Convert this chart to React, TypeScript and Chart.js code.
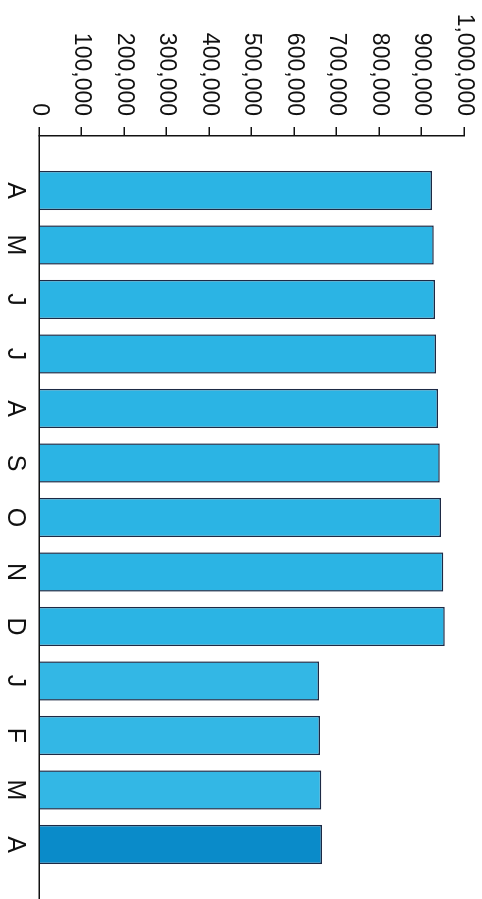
import React, { useEffect, useRef } from "react";
import { Chart, registerables } from "chart.js";

Chart.register(...registerables);

const months = ["A", "M", "J", "J", "A", "S", "O", "N", "D", "J", "F", "M", "A"];
const values = [925000, 929000, 932000, 934000, 939000, 943000, 946000, 951000, 955000, 659000, 661000, 664000, 666000];
const barColors = [
  "#2bb4e4", "#2bb4e4", "#2bb4e4", "#2bb4e4", "#2bb4e4", "#2bb4e4", "#2bb4e4",
  "#2bb4e4", "#2bb4e4", "#33b7e5", "#33b7e5", "#33b7e5", "#0a8bc9",
];
const valueTicks = [0, 100000, 200000, 300000, 400000, 500000, 600000, 700000, 800000, 900000, 1000000];

const FONT = "'Liberation Sans', Arial, Helvetica, sans-serif";

export default function App() {
  const ref = useRef<HTMLCanvasElement | null>(null);

  useEffect(() => {
    if (!ref.current) return;
    const chart = new Chart(ref.current, {
      type: "bar",
      data: {
        datasets: [
          {
            data: values.map((v, i) => ({ x: i, y: v })),
            backgroundColor: barColors,
            borderColor: "#1d2a45",
            borderWidth: 1.5,
            barPercentage: 0.72,
            categoryPercentage: 1,
          },
        ],
      },
      options: {
        responsive: false,
        animation: false,
        events: [],
        layout: { padding: { top: 18, right: 0, left: 0, bottom: 0 } },
        plugins: { legend: { display: false }, tooltip: { enabled: false } },
        scales: {
          x: {
            type: "linear",
            min: -1,
            max: 13,
            offset: false,
            afterBuildTicks: (axis: any) => {
              axis.ticks = months.map((_, i) => ({ value: i }));
            },
            afterFit: (axis: any) => {
              axis.height = 39;
              axis.paddingLeft = 0;
              axis.paddingRight = 0;
            },
            grid: { display: false, drawTicks: false },
            border: { display: true, color: "#111", width: 1.5 },
            ticks: {
              autoSkip: false,
              maxRotation: 0,
              minRotation: 0,
              padding: 9,
              color: "#111",
              font: { family: FONT, size: 25 },
              callback: (v: any) => months[v] ?? "",
            },
          },
          y: {
            min: 0,
            max: 1000000,
            afterBuildTicks: (axis: any) => {
              axis.ticks = valueTicks.map((v) => ({ value: v }));
            },
            afterFit: (axis: any) => {
              axis.width = 136;
              axis.paddingTop = 0;
              axis.paddingBottom = 0;
            },
            grid: {
              display: true,
              drawOnChartArea: false,
              drawTicks: true,
              tickLength: 9,
              color: "#111",
              lineWidth: 1.5,
            },
            border: { display: true, color: "#111", width: 1.5 },
            ticks: {
              padding: 11,
              color: "#111",
              font: { family: FONT, size: 23 },
              callback: (v: any) => Number(v).toLocaleString("en-US"),
            },
          },
        },
      },
    } as any);
    return () => chart.destroy();
  }, []);

  return (
    <div
      style={{
        position: "absolute",
        left: 0,
        top: 0,
        width: 899,
        height: 482,
        transformOrigin: "0 0",
        transform: "translate(482px, 0px) rotate(90deg)",
        background: "#fff",
      }}
    >
      <canvas ref={ref} width={899} height={482} style={{ display: "block" }} />
    </div>
  );
}
